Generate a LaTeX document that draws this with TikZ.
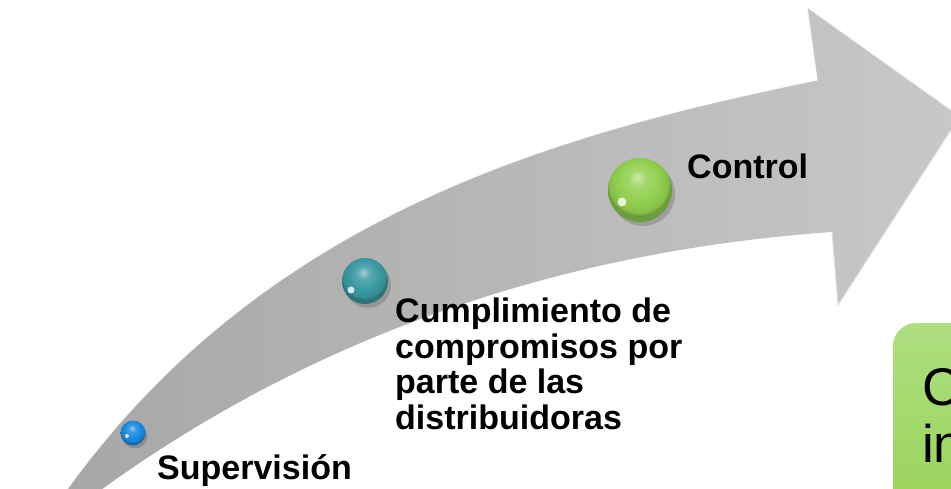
\documentclass[tikz,border=0pt]{standalone}
\usepackage{fontspec}
\setmainfont{Liberation Sans}
\usetikzlibrary{shadings}

\definecolor{shaftdark}{HTML}{A6A6A6}
\definecolor{shaftlight}{HTML}{C8C8C8}
\definecolor{bluebead}{HTML}{1A8CE0}
\definecolor{tealbead}{HTML}{3B9AA2}
\definecolor{greenbead}{HTML}{92D050}
\definecolor{boxtop}{HTML}{AEDF80}
\definecolor{boxgreen}{HTML}{92D050}
\colorlet{beadc}{greenbead}

% glossy bead, lighter than the ball shading
\pgfdeclareradialshading[beadc]{bead}{\pgfqpoint{-2bp}{10bp}}{%
  color(0bp)=(beadc!45!white); color(7bp)=(beadc!85!white);
  color(16bp)=(beadc); color(23bp)=(beadc!92!black);
  color(25bp)=(beadc!75!black); color(50bp)=(beadc!75!black)}

\tikzset{
  bead/.style={circle, draw=none, inner sep=0pt, /utils/exec={\colorlet{beadc}{#1}}, shading=bead},
  beadshadow/.style={black, opacity=0.16},
  glint/.style={white, opacity=0.8},
  steptext/.style={font=\bfseries\fontsize{34}{35.5}\selectfont, inner sep=0pt, align=left},
  boxtext/.style={font=\fontsize{53}{57}\selectfont, inner sep=0pt, align=left, anchor=north west}
}

\begin{document}
\begin{tikzpicture}[x=1pt, y=-1pt]
            
                % Frame:
                \useasboundingbox (0,0) rectangle (951,489);
                \clip (0,0) rectangle (951,489);
                \fill[white] (0,0) rectangle (951,489);

                % Arrow:
                \shade[left color=shaftdark, right color=shaftlight]
                    (30,545) .. controls (230,220) and (550,135) .. (817,80)
                    -- (807,7) -- (960,116) -- (838,305) -- (832,232)
                    .. controls (650,245) and (330,296) .. (30,545) -- cycle;
                \draw[white, line width=1.2pt, opacity=0.8]
                    (30,545) .. controls (230,220) and (550,135) .. (817,80) -- (807,7) -- (960,116);
                \draw[gray!25, line width=1pt] (960,116) -- (838,305) -- (832,232);

                % Beads:
                \fill[beadshadow] (135,436) circle (12.5);
                \fill[beadshadow] (368,285) circle (23);
                \fill[beadshadow] (643,194) circle (32);
                \node[bead=bluebead, minimum size=25pt] (supball) at (133,433) {};
                \node[bead=tealbead, minimum size=46pt] (cumball) at (365,281) {};
                \node[bead=greenbead, minimum size=64pt] (conball) at (640,190) {};
                \fill[glint] ([shift={(-6,3)}]supball.center) circle (2);
                \fill[glint] ([shift={(-14,9)}]cumball.center) circle (3.5);
                \fill[glint] ([shift={(-18,12)}]conball.center) circle (4.5);

                % Labels:
                \node[steptext, anchor=base west] (suptext) at (157,479) {Supervisión};
                \node[steptext, anchor=north west] (cumtext) at (395,298) {Cumplimiento de\\compromisos por\\parte de las\\distribuidoras};
                \node[steptext, anchor=base west] (context) at (687,179) {Control};

                % Box:
                \shade[top color=boxtop, bottom color=boxgreen, rounded corners=23pt] (893,323) rectangle (1010,560);
                \node[boxtext] (boxtext) at (922,368) {C\\in};
            \end{tikzpicture}
\end{document}
